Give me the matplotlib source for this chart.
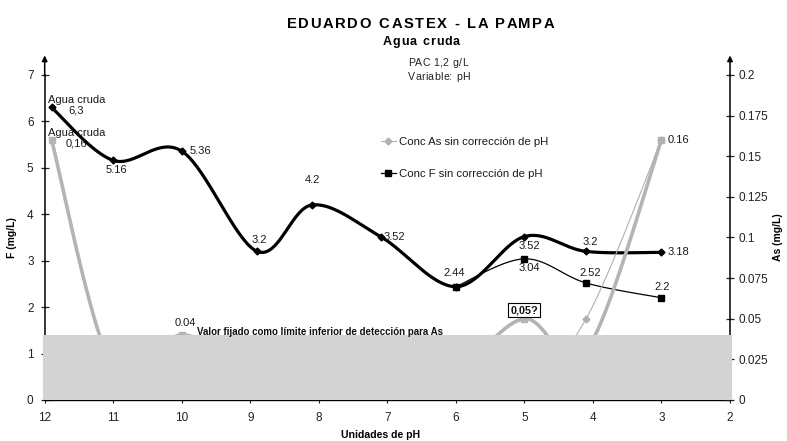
import numpy as np
import matplotlib
matplotlib.use("Agg")
import matplotlib.pyplot as plt
from matplotlib.patches import Rectangle
from matplotlib.ticker import FixedLocator, FixedFormatter

plt.rcParams['font.family'] = ['Liberation Sans', 'DejaVu Sans']

# ---- data -------------------------------------------------------------
ph_corr = [11.9, 11, 10, 8.9, 8.1, 7.1, 6, 5, 4.1, 3]
f_corr = [6.3, 5.16, 5.36, 3.2, 4.2, 3.52, 2.44, 3.52, 3.2, 3.18]
as_corr = [0.16, 0.02, 0.04, 0.02, 0.02, 0.02, 0.02, 0.05, 0.03, 0.16]

ph_nc = [6, 5, 4.1, 3]
f_nc = [2.44, 3.04, 2.52, 2.2]
as_nc = [0.02, 0.01, 0.05, 0.16]

as_limit = 0.04

x_ticks = [12, 11, 10, 9, 8, 7, 6, 5, 4, 3, 2]
f_ticks = [0, 1, 2, 3, 4, 5, 6, 7]
as_ticks = [0, 0.025, 0.05, 0.075, 0.1, 0.125, 0.15, 0.175, 0.2]
as_tick_labels = ['0', '0.025', '0.05', '0.075', '0.1', '0.125', '0.15', '0.175', '0.2']


def smooth(x, y, n=40):
    """Bezier smoothing through every point (spreadsheet style)."""
    pts = np.column_stack([x, y]).astype(float)
    P = np.vstack([pts[0], pts, pts[-1]])
    t = np.linspace(0, 1, n)[:, None]
    segs = []
    for i in range(1, len(P) - 2):
        p0, p1, p2, p3 = P[i - 1], P[i], P[i + 1], P[i + 2]
        c1 = p1 + (p2 - p0) / 6
        c2 = p2 - (p3 - p1) / 6
        segs.append((1 - t) ** 3 * p1 + 3 * (1 - t) ** 2 * t * c1
                    + 3 * (1 - t) * t ** 2 * c2 + t ** 3 * p2)
    s = np.vstack(segs)
    return s[:, 0], s[:, 1]


W, H = 787, 441
fig = plt.figure(figsize=(W / 100, H / 100), dpi=100)
ax = fig.add_axes([0.0568, 0.0930, 0.8708, 0.7370])
ax2 = ax.twinx()

ax.set_xlim(12, 2)
ax.set_ylim(0, 7)
ax2.set_ylim(0, 0.2)

GRAY = '#b4b4b4'
LGRAY = '#b0b0b0'

# fluoride, corrected pH (thick black)
sx, sy = smooth(ph_corr, f_corr)
ax.plot(sx, sy, color='black', lw=2.3, zorder=4, solid_capstyle='round')
ax.plot(ph_corr, f_corr, ls='none', marker='D', ms=3.5, color='black', zorder=5)

# fluoride without pH correction (thin black, squares)
sx, sy = smooth(ph_nc, f_nc)
ax.plot(sx, sy, color='black', lw=0.9, zorder=4)
ax.plot(ph_nc, f_nc, ls='none', marker='s', ms=4, color='black', zorder=5)

# arsenic, corrected pH (thick gray, squares)
sx, sy = smooth(ph_corr, as_corr)
ax2.plot(sx, sy, color=GRAY, lw=2.6, zorder=3)
ax2.plot(ph_corr, as_corr, ls='none', marker='s', ms=5, color=GRAY, zorder=3)

# arsenic without pH correction (thin gray, diamonds)
sx, sy = smooth(ph_nc, as_nc)
ax2.plot(sx, sy, color=LGRAY, lw=0.8, zorder=3)
ax2.plot(ph_nc, as_nc, ls='none', marker='D', ms=3.5, color=LGRAY, zorder=3)

# detection limit band
ax2.add_patch(Rectangle((12.03, 0), -10.06, as_limit, facecolor='#d3d3d3',
                        edgecolor='none', zorder=10, clip_on=False))
ax2.text(9.777, 0.0418, 'Valor fijado como límite inferior de detección para As',
         fontsize=7, fontweight='bold', ha='left', va='center', zorder=11,
         color='#111111')

# ---- data labels -------------------------------------------------------
px = 0.72  # points per pixel


def lab(a, x, y, text, dx, dy, **kw):
    a.annotate(text, (x, y), xytext=(dx * px, dy * px), textcoords='offset points',
               ha='center', va='center', fontsize=8, color='#1a1a1a', zorder=12, **kw)


f_off = [(25, 2), (3, -10), (19, 0), (2, 11), (0, 25), (14, 0), (-2, 14),
         (5, -9), (4, 9), (17, 0)]
for i, (x, y) in enumerate(zip(ph_corr, f_corr)):
    t = f'{y:g}'
    if i == 0:
        t = 'Agua cruda\n' + t.replace('.', ',')
    lab(ax, x, y, t, *f_off[i], linespacing=1.05)

nc_off = {1: (5, -9), 2: (4, 10), 3: (1, 11)}
for i, (dx, dy) in nc_off.items():
    lab(ax, ph_nc[i], f_nc[i], f'{f_nc[i]:g}', dx, dy)

lab(ax2, ph_corr[0], as_corr[0],
    'Agua cruda\n' + f'{as_corr[0]:g}'.replace('.', ','), 25, 2, linespacing=1.05)
lab(ax2, ph_corr[2], as_corr[2], f'{as_corr[2]:g}', 4, 12)
lab(ax2, ph_corr[-1], as_corr[-1], f'{as_corr[-1]:g}', 17, 0)
ax2.annotate(f'{as_corr[7]:g}'.replace('.', ',') + '?', (ph_corr[7], as_corr[7]),
             xytext=(0, 8.5 * px), textcoords='offset points', ha='center', va='center',
             fontsize=7.8, fontweight='bold', color='#111111', zorder=12,
             bbox=dict(boxstyle='square,pad=0.2', fc='white', ec='black', lw=0.8))

# ---- axes styling ------------------------------------------------------
for s in ('top', 'right'):
    ax.spines[s].set_visible(False)
for s in ('top', 'left', 'bottom'):
    ax2.spines[s].set_visible(False)
ax.spines['left'].set_linewidth(1.1)
ax.spines['bottom'].set_linewidth(1.0)
ax2.spines['right'].set_linewidth(1.1)

ax.xaxis.set_major_locator(FixedLocator(x_ticks))
ax.set_xticklabels([str(v) for v in x_ticks])
ax.yaxis.set_major_locator(FixedLocator(f_ticks))
ax.set_yticklabels([str(v) for v in f_ticks])
ax2.yaxis.set_major_locator(FixedLocator(as_ticks))
ax2.yaxis.set_major_formatter(FixedFormatter(as_tick_labels))

ax.tick_params(axis='x', direction='inout', length=5, width=0.8, labelsize=8.5,
               pad=6.5, colors='#222222')
ax.tick_params(axis='y', direction='inout', length=6, width=0.9, labelsize=8.5,
               pad=5, colors='#222222')
ax2.tick_params(axis='y', direction='inout', length=6, width=0.9, labelsize=8.5,
                pad=3, colors='#222222')

ax.set_xlabel('Unidades de pH', fontsize=7.6, fontweight='bold')
ax.xaxis.set_label_coords(0.49, -0.092)
ax.set_ylabel('F (mg/L)', fontsize=7.5, fontweight='bold')
ax.yaxis.set_label_coords(-0.04, 0.5)
ax2.set_ylabel('As (mg/L)', fontsize=7.5, fontweight='bold')
ax2.yaxis.set_label_coords(1.063, 0.5)

# arrows at the top of both value axes
for xa in (12, 2):
    ax.annotate('', xy=(xa, 7.42), xytext=(xa, 6.98), xycoords='data',
                arrowprops=dict(arrowstyle='-|>', color='black', lw=1.1,
                                mutation_scale=8, shrinkA=0, shrinkB=0),
                annotation_clip=False)

# legend
leg = ax2.legend(handles=[
    plt.Line2D([], [], color=LGRAY, lw=0.8, marker='D', ms=3.5),
    plt.Line2D([], [], color='black', lw=0.9, marker='s', ms=4)],
    labels=['Conc As sin corrección de pH', 'Conc F sin corrección de pH'],
    loc='upper left', bbox_to_anchor=(375 / W, 1 - 131 / H),
    bbox_transform=fig.transFigure, frameon=False, fontsize=8.2,
    handlelength=1.3, handletextpad=0.3, labelspacing=2.0, borderpad=0)
for t in leg.get_texts():
    t.set_color('#1a1a1a')

# ---- titles with letter spacing ---------------------------------------
renderer = fig.canvas.get_renderer()


def text_width(s, **kw):
    t = fig.text(0, 0, s + '|', **kw)
    w = t.get_window_extent(renderer).width
    t.remove()
    t = fig.text(0, 0, '|', **kw)
    w -= t.get_window_extent(renderer).width
    t.remove()
    return w


def tracked(x_px, y_px, s, track, ha='center', **kw):
    widths = [text_width(s[:i], **kw) if i else 0.0 for i in range(len(s))]
    total = text_width(s, **kw) + track * (len(s) - 1)
    x0 = x_px - total / 2 if ha == 'center' else x_px
    for i, ch in enumerate(s):
        if ch == ' ':
            continue
        fig.text((x0 + widths[i] + track * i) / W, 1 - y_px / H, ch,
                 ha='left', va='center', **kw)


tracked(420, 23.5, 'EDUARDO CASTEX - LA PAMPA', 1.7, fontsize=10.6, fontweight='bold')
tracked(421.5, 42.3, 'Agua cruda', 0.9, fontsize=9, fontweight='bold')
tracked(408, 63.5, 'PAC 1,2 g/L', 0.4, ha='left', fontsize=7.6, color='#222222')
tracked(408, 77.5, 'Variable: pH', 0.4, ha='left', fontsize=7.6, color='#222222')

fig.savefig('out.png', dpi=100)
